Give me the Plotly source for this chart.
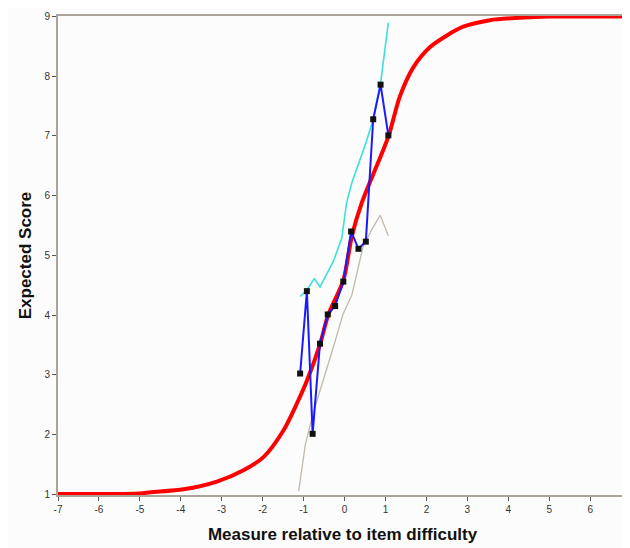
import plotly.graph_objects as go

# observed scores (blue with black square markers)
obs_x = [-1.085, -0.92, -0.78, -0.60, -0.41, -0.23, -0.03, 0.16, 0.34, 0.52, 0.70, 0.88, 1.07]
obs_y = [3.02, 4.40, 2.01, 3.52, 4.01, 4.15, 4.56, 5.40, 5.11, 5.23, 7.28, 7.86, 7.01]

# upper band (cyan)
upper_x = [-1.085, -0.92, -0.74, -0.60, -0.28, -0.07, 0.05, 0.18, 0.52, 0.70, 0.88, 1.07]
upper_y = [4.31, 4.42, 4.61, 4.47, 4.89, 5.28, 5.88, 6.22, 6.88, 7.28, 7.88, 8.90]

# lower band (grey)
lower_x = [-1.12, -0.96, -0.77, -0.52, -0.23, -0.04, 0.18, 0.45, 0.67, 0.87, 1.07]
lower_y = [1.05, 1.82, 2.35, 2.90, 3.56, 4.01, 4.34, 5.14, 5.44, 5.67, 5.33]

# model expected score curve (red)
model_x = [-7, -6, -5, -4.74, -3.93, -3.12, -2.47, -1.98, -1.49, -1.17, -0.92, -0.6, -0.4,
           -0.03, 0.18, 0.42, 1.07, 1.35, 1.68, 2.09, 2.49, 2.9, 3.55, 4.28, 5, 6, 6.9]
model_y = [1.0, 1.0, 1.01, 1.03, 1.08, 1.21, 1.40, 1.62, 2.07, 2.51, 2.90, 3.51, 4.0,
           4.58, 5.33, 5.88, 6.99, 7.66, 8.15, 8.49, 8.68, 8.83, 8.94, 8.98, 9.0, 9.0, 9.0]

x_ticks = list(range(-7, 7))
y_ticks = list(range(1, 10))

fig = go.Figure()

fig.add_trace(go.Scatter(x=lower_x, y=lower_y, mode="lines",
                         line=dict(color="#c2b9ad", width=1.3)))
fig.add_trace(go.Scatter(x=upper_x, y=upper_y, mode="lines",
                         line=dict(color="#3ee0dc", width=1.6)))
fig.add_trace(go.Scatter(x=model_x, y=model_y, mode="lines",
                         line=dict(color="#ff0000", width=4, shape="spline", smoothing=0.8)))
fig.add_trace(go.Scatter(x=obs_x, y=obs_y, mode="lines+markers",
                         line=dict(color="#1a1aff", width=2),
                         marker=dict(symbol="square", size=6, color="#111111")))

axis_font = dict(family="Liberation Sans, Arial, sans-serif", size=10, color="#333333")
title_font = dict(family="Liberation Sans, Arial, sans-serif", size=17, color="#111111")

# page body has an 8px margin, so the figure is sized and offset to compensate
fig.update_layout(
    width=622, height=540,
    margin=dict(l=50, r=3, t=5, b=53),
    paper_bgcolor="#fcfcfc", plot_bgcolor="#fcfcfc",
    showlegend=False,
    xaxis=dict(
        range=[-7, 6.9], tickvals=x_ticks, ticktext=[str(v) for v in x_ticks],
        showgrid=False, zeroline=False,
        showline=True, linecolor="#aaa49b", linewidth=2, mirror=True,
        ticks="outside", ticklen=4, tickcolor="#555555", tickwidth=1,
        tickfont=axis_font, layer="below traces",
        title=dict(text="<b>Measure relative to item difficulty</b>", font=title_font, standoff=14),
    ),
    yaxis=dict(
        range=[0.985, 9.01], tickvals=y_ticks, ticktext=[str(v) for v in y_ticks],
        showgrid=False, zeroline=False,
        showline=True, linecolor="#aaa49b", linewidth=2,
        ticks="outside", ticklen=4, tickcolor="#555555", tickwidth=1,
        tickfont=axis_font, layer="below traces", ticklabeloverflow="allow",
        title=dict(text="<b>Expected Score</b>", font=title_font, standoff=8),
    ),
)

fig.write_html("out.html")
